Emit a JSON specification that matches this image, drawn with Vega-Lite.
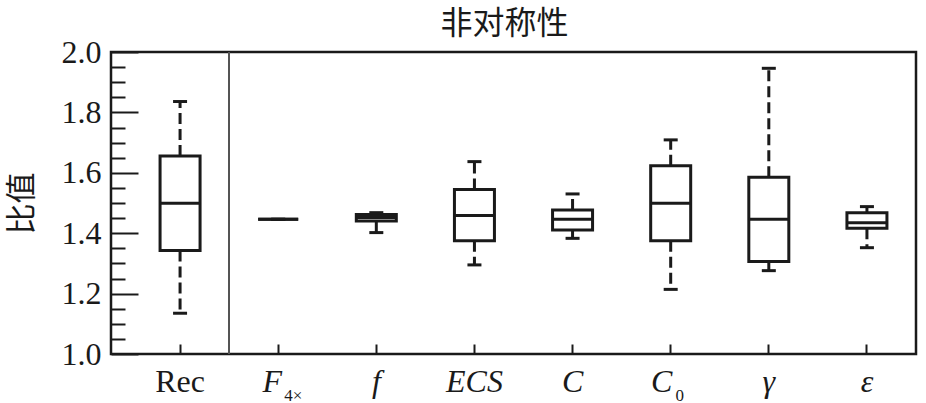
{
  "$schema": "https://vega.github.io/schema/vega-lite/v6.json",
  "width": 805,
  "height": 302,
  "autosize": "none",
  "padding": {"left": 111, "top": 52, "right": 10, "bottom": 49},
  "background": "white",
  "title": {
    "text": "非对称性",
    "font": "Noto Sans CJK SC",
    "fontSize": 32,
    "fontWeight": "normal",
    "color": "#1a1a1a",
    "offset": -5,
    "dx": -9
  },
  "config": {
    "view": {"stroke": "#1a1a1a", "strokeWidth": 2.5},
    "axis": {"domain": false, "grid": false, "labelColor": "#1a1a1a", "tickColor": "#1a1a1a", "titleColor": "#1a1a1a"}
  },
  "data": {
    "values": [
      {"cat": "Rec", "min": 1.135, "q1": 1.343, "median": 1.499, "q3": 1.656, "max": 1.836},
      {"cat": "F4×", "min": 1.446, "q1": 1.446, "median": 1.446, "q3": 1.446, "max": 1.446},
      {"cat": "f", "min": 1.402, "q1": 1.44, "median": 1.452, "q3": 1.462, "max": 1.468},
      {"cat": "ECS", "min": 1.295, "q1": 1.375, "median": 1.459, "q3": 1.545, "max": 1.637},
      {"cat": "C", "min": 1.383, "q1": 1.411, "median": 1.446, "q3": 1.477, "max": 1.53},
      {"cat": "C0", "min": 1.214, "q1": 1.375, "median": 1.499, "q3": 1.623, "max": 1.709},
      {"cat": "γ", "min": 1.276, "q1": 1.306, "median": 1.446, "q3": 1.585, "max": 1.946},
      {"cat": "ε", "min": 1.352, "q1": 1.416, "median": 1.435, "q3": 1.468, "max": 1.488}
    ]
  },
  "encoding": {
    "x": {
      "field": "cat",
      "type": "nominal",
      "scale": {
        "type": "band",
        "domain": ["Rec", "F4×", "f", "ECS", "C", "C0", "γ", "ε"],
        "range": [20, 805],
        "paddingInner": 0,
        "paddingOuter": 0
      }
    }
  },
  "layer": [
    {
      "mark": {"type": "rule", "color": "#1a1a1a", "strokeWidth": 3, "strokeDash": [11, 5]},
      "encoding": {
        "x": {
          "field": "cat",
          "type": "nominal",
          "axis": {
            "orient": "bottom",
            "title": null,
            "labelAngle": 0,
            "tickSize": -10,
            "tickWidth": 2,
            "labelFont": "Liberation Serif",
            "labelFontSize": 32,
            "labelPadding": 22,
            "labelBaseline": "top",
            "labelExpr": "datum.value == 'F4×' ? 'F' : datum.value == 'C0' ? 'C' : datum.value",
            "labelFontStyle": {"condition": {"test": "datum.value == 'Rec'", "value": "normal"}, "value": "italic"},
            "labelOffset": {"condition": [{"test": "datum.value == 'F4×'", "value": -6}, {"test": "datum.value == 'C0'", "value": -9}], "value": 0}
          }
        },
        "y": {
          "field": "q3",
          "type": "quantitative",
          "scale": {"domain": [1, 2], "nice": false, "zero": false},
          "axis": {
            "orient": "left",
            "values": [1, 1.2, 1.4, 1.6, 1.8, 2],
            "format": ".1f",
            "tickSize": -27,
            "tickWidth": 2,
            "labelFont": "Liberation Serif",
            "labelFontSize": 32,
            "labelPadding": 37,
            "title": "比值",
            "titleFont": "Noto Sans CJK SC",
            "titleFontSize": 31,
            "titleFontWeight": "normal",
            "titlePadding": 23
          }
        },
        "y2": {"field": "max"}
      }
    },
    {
      "mark": {"type": "rule", "color": "#1a1a1a", "strokeWidth": 3, "strokeDash": [11, 5]},
      "encoding": {
        "x": {
          "field": "cat",
          "type": "nominal",
          "axis": {
            "orient": "bottom",
            "title": null,
            "labelAngle": 0,
            "ticks": false,
            "labelFont": "Liberation Serif",
            "labelFontSize": 17,
            "labelPadding": 33,
            "labelBaseline": "top",
            "labelExpr": "datum.value == 'F4×' ? '4×' : datum.value == 'C0' ? '0' : ''",
            "labelOffset": {"condition": {"test": "datum.value == 'F4×'", "value": 15}, "value": 9}
          }
        },
        "y": {
          "field": "q1",
          "type": "quantitative",
          "scale": {"domain": [1, 2], "nice": false, "zero": false},
          "axis": {
            "orient": "left",
            "values": [1.05, 1.1, 1.15, 1.25, 1.3, 1.35, 1.45, 1.5, 1.55, 1.65, 1.7, 1.75, 1.85, 1.9, 1.95],
            "tickSize": -14,
            "tickWidth": 2,
            "labels": false,
            "title": null
          }
        },
        "y2": {"field": "min"}
      }
    },
    {
      "mark": {"type": "bar", "fill": "white", "stroke": "#1a1a1a", "strokeWidth": 3, "width": 40},
      "encoding": {
        "x": {"field": "cat", "type": "nominal", "axis": null},
        "y": {"field": "q1", "type": "quantitative", "axis": null},
        "y2": {"field": "q3"}
      }
    },
    {
      "mark": {"type": "tick", "color": "#1a1a1a", "size": 40, "thickness": 3, "opacity": 1},
      "encoding": {
        "x": {"field": "cat", "type": "nominal", "axis": null},
        "y": {"field": "median", "type": "quantitative", "axis": null}
      }
    },
    {
      "mark": {"type": "tick", "color": "#1a1a1a", "size": 14, "thickness": 3, "opacity": 1},
      "encoding": {
        "x": {"field": "cat", "type": "nominal", "axis": null},
        "y": {"field": "max", "type": "quantitative", "axis": null}
      }
    },
    {
      "mark": {"type": "tick", "color": "#1a1a1a", "size": 14, "thickness": 3, "opacity": 1},
      "encoding": {
        "x": {"field": "cat", "type": "nominal", "axis": null},
        "y": {"field": "min", "type": "quantitative", "axis": null}
      }
    },
    {
      "mark": {"type": "rule", "color": "#555555", "strokeWidth": 1.5},
      "encoding": {
        "x": {"datum": "F4×", "type": "nominal", "bandPosition": 0, "axis": null}
      }
    }
  ],
  "resolve": {"axis": {"x": "independent", "y": "independent"}}
}
